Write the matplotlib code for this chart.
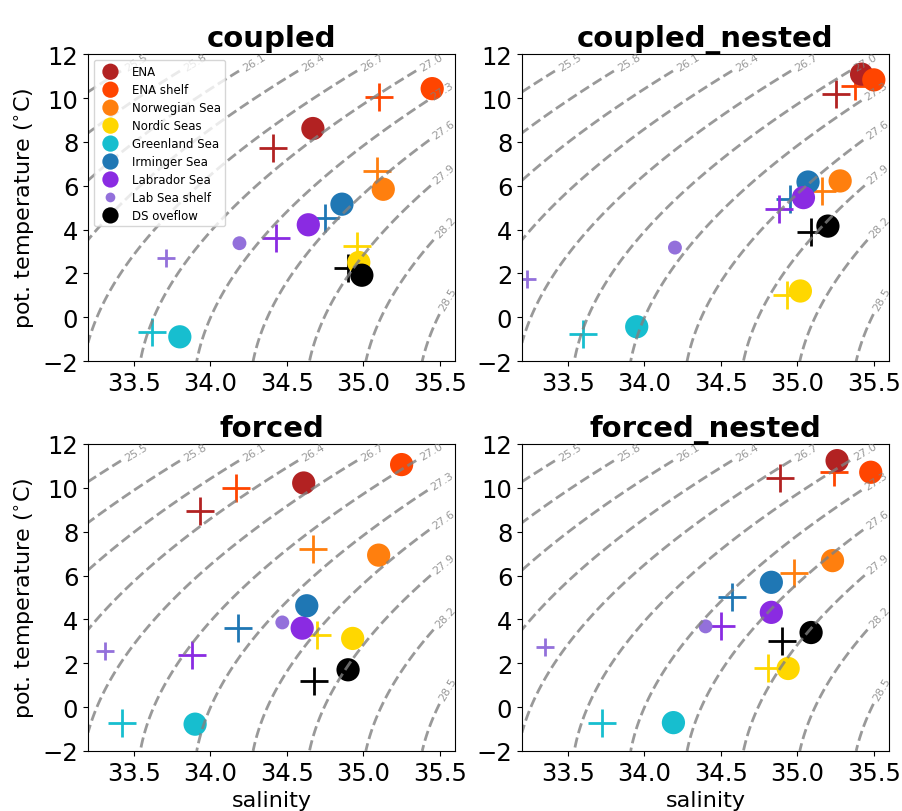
import numpy as np
import matplotlib
matplotlib.use('Agg')
import matplotlib.pyplot as plt

regions = ['ENA', 'ENA shelf', 'Norwegian Sea', 'Nordic Seas', 'Greenland Sea',
           'Irminger Sea', 'Labrador Sea', 'Lab Sea shelf', 'DS oveflow']
colors = ['firebrick', 'orangered', 'tab:orange', 'gold', 'tab:cyan',
          'tab:blue', 'blueviolet', 'mediumpurple', 'black']
runs = ['coupled', 'coupled_nested', 'forced', 'forced_nested']

# model values (circles)
S_model = {
    'coupled':        [34.67, 35.45, 35.13, 34.97, 33.80, 34.86, 34.64, 34.19, 34.99],
    'coupled_nested': [35.42, 35.50, 35.28, 35.02, 33.95, 35.07, 35.04, 34.20, 35.20],
    'forced':         [34.61, 35.25, 35.10, 34.93, 33.90, 34.63, 34.60, 34.47, 34.90],
    'forced_nested':  [35.26, 35.48, 35.23, 34.94, 34.19, 34.83, 34.83, 34.40, 35.09],
}
T_model = {
    'coupled':        [8.61, 10.43, 5.84, 2.50, -0.89, 5.16, 4.22, 3.38, 1.92],
    'coupled_nested': [11.09, 10.83, 6.22, 1.20, -0.43, 6.17, 5.46, 3.18, 4.16],
    'forced':         [10.22, 11.06, 6.93, 3.13, -0.78, 4.62, 3.60, 3.86, 1.70],
    'forced_nested':  [11.24, 10.71, 6.68, 1.76, -0.71, 5.69, 4.32, 3.68, 3.40],
}
# observations (crosses)
S_obs = {
    'coupled':        [34.41, 35.10, 35.09, 34.96, 33.62, 34.75, 34.43, 33.71, 34.90],
    'coupled_nested': [35.25, 35.38, 35.16, 34.93, 33.60, 34.95, 34.88, 33.23, 35.09],
    'forced':         [33.93, 34.17, 34.67, 34.70, 33.42, 34.18, 33.88, 33.31, 34.68],
    'forced_nested':  [34.89, 35.24, 34.98, 34.81, 33.72, 34.57, 34.50, 33.35, 34.90],
}
T_obs = {
    'coupled':        [7.70, 10.07, 6.68, 3.26, -0.66, 4.55, 3.64, 2.70, 2.27],
    'coupled_nested': [10.18, 10.53, 5.76, 1.04, -0.78, 5.41, 4.96, 1.73, 3.89],
    'forced':         [8.93, 9.99, 7.21, 3.28, -0.71, 3.60, 2.37, 2.57, 1.17],
    'forced_nested':  [10.44, 10.74, 6.11, 1.76, -0.71, 5.00, 3.71, 2.72, 3.02],
}

sig_levels = np.round(np.arange(25.5, 28.51, 0.3), 1)


def sigma0(S, T):
    # UNESCO EOS-80 density at surface pressure
    rw = (999.842594 + 6.793952e-2 * T - 9.095290e-3 * T**2 + 1.001685e-4 * T**3
          - 1.120083e-6 * T**4 + 6.536332e-9 * T**5)
    A = 0.824493 - 4.0899e-3 * T + 7.6438e-5 * T**2 - 8.2467e-7 * T**3 + 5.3875e-9 * T**4
    B = -5.72466e-3 + 1.0227e-4 * T - 1.6546e-6 * T**2
    C = 4.8314e-4
    return rw + A * S + B * S**1.5 + C * S**2 - 1000.


ss, tt = np.meshgrid(np.linspace(33.2, 35.6, 200), np.linspace(-2, 12, 200))
dens = sigma0(ss, tt)

fig = plt.figure(figsize=(9.02, 8.12), dpi=100)
pos = [[0.0976, 0.554, 0.407, 0.378], [0.5787, 0.554, 0.407, 0.378],
       [0.0976, 0.074, 0.407, 0.378], [0.5787, 0.074, 0.407, 0.378]]

for k, run in enumerate(runs):
    ax = fig.add_axes(pos[k])
    # crosses first, then circles on top
    for i, reg in enumerate(regions):
        small = reg == 'Lab Sea shelf'
        ax.scatter(S_obs[run][i], T_obs[run][i], marker='+', s=180 if small else 380,
                   color=colors[i], linewidths=2)
    for i, reg in enumerate(regions):
        small = reg == 'Lab Sea shelf'
        ax.scatter(S_model[run][i], T_model[run][i], marker='o', s=100 if small else 280,
                   color=colors[i], edgecolors='none', label=reg)
    cs = ax.contour(ss, tt, dens, levels=sig_levels, colors='gray', alpha=0.8,
                    linestyles='dashed', linewidths=2)
    ax.clabel(cs, fmt='%.1f', fontsize=8, inline=True)
    ax.set_xlim(33.2, 35.6)
    ax.set_ylim(-2, 12)
    ax.set_xticks([33.5, 34.0, 34.5, 35.0, 35.5])
    ax.set_yticks(np.arange(-2, 13, 2))
    ax.tick_params(labelsize=17.5)
    ax.set_title(run, fontsize=21, fontweight='bold')
    if k % 2 == 0:
        ax.set_ylabel('pot. temperature ($^{\\circ}$C)', fontsize=16)
    if k >= 2:
        ax.set_xlabel('salinity', fontsize=16)
    if k == 0:
        ax.legend(loc='upper left', fontsize=8.5, markerscale=0.7, labelspacing=0.42)

plt.savefig('out.png', dpi=100)
